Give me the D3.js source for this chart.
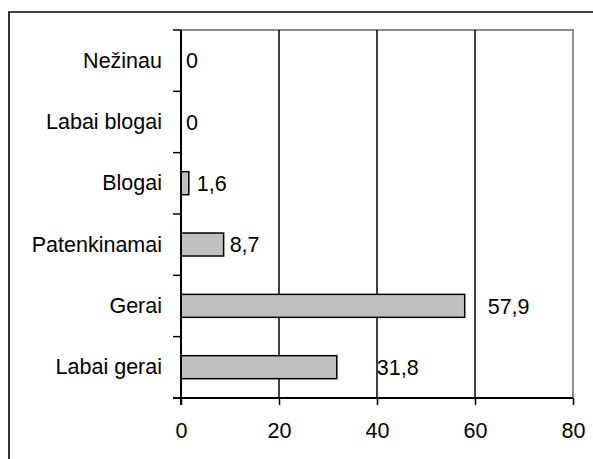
<!DOCTYPE html>
<html>
<head>
<meta charset="utf-8">
<script src="https://cdn.jsdelivr.net/npm/d3@7"></script>
<style>
  body { margin: 0; background: #fff; }
  svg { display: block; font-family: "Liberation Sans", Arial, sans-serif; }
</style>
</head>
<body>
<svg width="593" height="459"></svg>
<script>
// data
const categories = ["Nežinau", "Labai blogai", "Blogai", "Patenkinamai", "Gerai", "Labai gerai"];
const values = [0, 0, 1.6, 8.7, 57.9, 31.8];
const valueLabels = ["0", "0", "1,6", "8,7", "57,9", "31,8"];
const xTicks = [0, 20, 40, 60, 80];

// excel puts the labels a bit oddly, so a gap per label (px)
const labelGap = [5, 5, 8, 6, 23, 40];

const svg = d3.select("svg");
const plot = { left: 181, right: 573, top: 30, bottom: 398 };
const fontSize = 21.5;

// outer frame (cut by the image on the right and bottom)
svg.append("path")
  .attr("d", "M9,470 L9,12 L600,12")
  .attr("fill", "none")
  .attr("stroke", "#000")
  .attr("stroke-width", 1.6);

const x = d3.scaleLinear().domain([0, 80]).range([plot.left, plot.right]);
const y = d3.scaleBand().domain(categories).range([plot.top, plot.bottom]).padding(0);
const bw = y.bandwidth();

// plot area border top + right (gray)
svg.append("path")
  .attr("d", `M${plot.left},${plot.top} L${plot.right},${plot.top} L${plot.right},${plot.bottom}`)
  .attr("fill", "none")
  .attr("stroke", "#8c8c8c")
  .attr("stroke-width", 2);

// gridlines
svg.append("g")
  .selectAll("line")
  .data(xTicks.filter((d) => d > 0 && d < 80))
  .join("line")
  .attr("x1", (d) => x(d))
  .attr("x2", (d) => x(d))
  .attr("y1", plot.top)
  .attr("y2", plot.bottom)
  .attr("stroke", "#000")
  .attr("stroke-width", 1.5);

// bars
svg.append("g")
  .selectAll("rect")
  .data(values)
  .join("rect")
  .attr("x", x(0))
  .attr("y", (d, i) => y(categories[i]) + bw * 0.31)
  .attr("width", (d) => x(d) - x(0))
  .attr("height", bw * 0.375)
  .attr("fill", "#c0c0c0")
  .attr("stroke", "#000")
  .attr("stroke-width", 1.5);

// value labels
svg.append("g")
  .selectAll("text")
  .data(values)
  .join("text")
  .attr("x", (d, i) => x(d) + labelGap[i])
  .attr("y", (d, i) => y(categories[i]) + bw / 2)
  .attr("dy", "0.35em")
  .attr("font-size", fontSize)
  .text((d, i) => valueLabels[i]);

// x axis
const xAxis = svg.append("g")
  .attr("transform", `translate(0,${plot.bottom})`)
  .call(d3.axisBottom(x).tickValues(xTicks).tickSize(7).tickPadding(18));
xAxis.select(".domain").remove();
xAxis.selectAll(".tick line").attr("stroke-width", 1.5);
xAxis.selectAll("text").attr("font-size", fontSize).attr("font-family", "Liberation Sans, Arial, sans-serif").attr("fill", "#000");

svg.append("line")
  .attr("x1", plot.left - 8).attr("x2", plot.right)
  .attr("y1", plot.bottom).attr("y2", plot.bottom)
  .attr("stroke", "#000").attr("stroke-width", 2);

// y axis
const yAxis = svg.append("g")
  .attr("transform", `translate(${plot.left},0)`)
  .call(d3.axisLeft(y).tickSize(0).tickPadding(19));
yAxis.select(".domain").remove();
yAxis.selectAll("text").attr("font-size", fontSize).attr("font-family", "Liberation Sans, Arial, sans-serif").attr("fill", "#000");

// tick marks on the category borders
const borders = categories.map((c) => y(c)).concat([plot.bottom]);
svg.append("g")
  .selectAll("line")
  .data(borders)
  .join("line")
  .attr("x1", plot.left - 8)
  .attr("x2", plot.left)
  .attr("y1", (d) => d)
  .attr("y2", (d) => d)
  .attr("stroke", "#000")
  .attr("stroke-width", 1.5);

svg.append("line")
  .attr("x1", plot.left).attr("x2", plot.left)
  .attr("y1", plot.top).attr("y2", plot.bottom + 7)
  .attr("stroke", "#000").attr("stroke-width", 2);
</script>
</body>
</html>
